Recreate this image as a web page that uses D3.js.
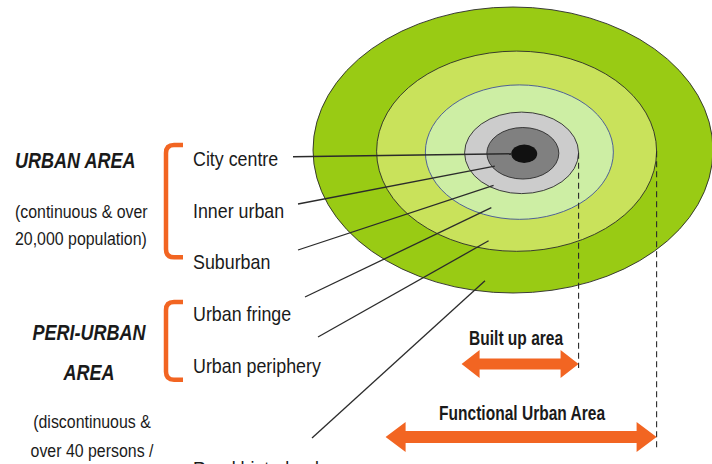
<!DOCTYPE html>
<html>
<head>
<meta charset="utf-8">
<script src="https://cdn.jsdelivr.net/npm/d3@7"></script>
<style>
  html, body { margin: 0; padding: 0; background: #ffffff; }
  svg { display: block; }
  text { font-family: 'Liberation Sans', Arial, sans-serif; fill: #1a1a1a; }
</style>
</head>
<body>
<div id="chart"></div>
<script>
// Zones, from the centre outwards
const zones = ["City centre", "Inner urban", "Suburban", "Urban fringe", "Urban periphery", "Rural hinterland"];
// Horizontal half-width of each zone's outer ring (diagram units)
const zoneRadius = [13, 36, 57, 94, 140, 200];
// Where the leader of each zone touches the ring band (0 = inner edge, 1 = outer edge)
const leaderDepth = [0, 0.8, 0.85, 0.7, 0.75, 0.75];
// Label row of each zone (rural hinterland sits lower)
const labelRow = [0, 1, 2, 3, 4, 6];

// Groups on the left
const groupTitle = [["URBAN AREA"], ["PERI-URBAN", "AREA"]];
const groupNote = [["(continuous & over", "20,000 population)"], ["(discontinuous &", "over 40 persons /"]];

// Measures (which zone ring each arrow reaches)
const measures = ["Built up area", "Functional Urban Area"];
const measureZone = [2, 4];

const width = 712, height = 464;
const fills = ["#111111", "#808080", "#cccccc", "#cdeea4", "#c9e25b", "#99cb14"];
const orange = "#f26522";

const svg = d3.select("#chart").append("svg")
  .attr("width", width)
  .attr("height", height);

// scales: ring size to pixels, row index to baseline
const rx = d3.scaleLinear().domain([0, 200]).range([0, 200]);
const ry = d3.scaleLinear().domain([0, 200]).range([0, 143]);
const cx = d3.scaleLinear().domain([0, 200]).range([525, 513]);
const cy = d3.scaleLinear().domain([0, 200]).range([154, 150]);
const yRow = d3.scaleLinear().domain([0, 6]).range([166, 476]);

// condensed text: squeeze horizontally around the anchor point
function label(g, x, y, str, size, sx, opts) {
  opts = opts || {};
  return g.append("text")
    .attr("transform", `translate(${x},${y}) scale(${sx},1)`)
    .attr("text-anchor", opts.anchor || "start")
    .style("font-size", size + "px")
    .style("font-weight", opts.bold ? "bold" : "normal")
    .style("font-style", opts.italic ? "italic" : "normal")
    .text(str);
}

// rings, largest first
const rings = zones.map((z, i) => ({ zone: z, r: zoneRadius[i], i })).reverse();
svg.append("g").selectAll("ellipse")
  .data(rings)
  .enter().append("ellipse")
    .attr("cx", d => cx(d.r))
    .attr("cy", d => cy(d.r))
    .attr("rx", d => rx(d.r))
    .attr("ry", d => ry(d.r))
    .style("fill", d => fills[d.i])
    .style("stroke", d => d.i === 3 ? "#41519a" : "#2a2a2a")
    .style("stroke-width", d => d.i === 0 ? 0 : 0.9);

// point where a zone leader ends
function leaderEnd(i) {
  const r = zoneRadius[i];
  if (i === 0) return [cx(r) - rx(r), cy(r)];
  const dx = -28;
  const band = k => {
    const a = rx(zoneRadius[k]), b = ry(zoneRadius[k]);
    const t = 1 - (dx * dx) / (a * a);
    return t > 0 ? b * Math.sqrt(t) : 0;
  };
  const inner = band(i - 1), outer = band(i);
  return [cx(r) + dx, cy(r) + inner + (outer - inner) * leaderDepth[i]];
}

// leaders start a little above each label
const leaderStart = [[293, 157], [298, 204], [298, 250], [305, 297], [318, 337], [312, 438]];
svg.append("g").selectAll("line")
  .data(zones)
  .enter().append("line")
    .attr("x1", (d, i) => leaderStart[i][0])
    .attr("y1", (d, i) => i === 0 ? leaderEnd(0)[1] + 3 : leaderStart[i][1])
    .attr("x2", (d, i) => leaderEnd(i)[0])
    .attr("y2", (d, i) => leaderEnd(i)[1])
    .style("stroke", "#2b2b2b")
    .style("stroke-width", 1.3);

// zone labels
const zoneLabels = svg.append("g");
zones.forEach((z, i) => label(zoneLabels, 193, yRow(labelRow[i]), z, 21, 0.85));

// brackets
const brackets = [[yRow(0) - 21, yRow(2) - 12], [yRow(3) - 19, yRow(4) + 7]];
svg.append("g").selectAll("path")
  .data(brackets)
  .enter().append("path")
    .attr("d", d => `M183,${d[0]} H174 Q166,${d[0]} 166,${d[0] + 8} V${d[1] - 8} Q166,${d[1]} 174,${d[1]} H183`)
    .style("fill", "none")
    .style("stroke", orange)
    .style("stroke-width", 4.5);

// group titles and notes
const titleLayout = [{ x: 15, anchor: "start", y: [168] }, { x: 89, anchor: "middle", y: [340, 380] }];
const noteLayout = [{ x: 15, anchor: "start", y: [218, 245] }, { x: 92, anchor: "middle", y: [428, 457] }];
const groups = svg.append("g");
groupTitle.forEach((lines, g) => {
  lines.forEach((t, k) => {
    label(groups, titleLayout[g].x, titleLayout[g].y[k], t, 22, 0.82,
      { anchor: titleLayout[g].anchor, bold: true, italic: true });
  });
});
groupNote.forEach((lines, g) => {
  lines.forEach((t, k) => {
    label(groups, noteLayout[g].x, noteLayout[g].y[k], t, 18.5, 0.86,
      { anchor: noteLayout[g].anchor });
  });
});

// measures: dashed drop line + double arrow + caption
const arrowY = [364, 437];
const arrowLen = [117, 271];
const arrowSize = [{ shaft: 11, head: 28, tip: 18 }, { shaft: 12, head: 30, tip: 20 }];
const captionY = [345, 420];

measures.forEach((m, k) => {
  const r = zoneRadius[measureZone[k]];
  const right = cx(r) + rx(r);
  const left = right - arrowLen[k];
  const y = arrowY[k], s = arrowSize[k];

  svg.append("line")
    .attr("x1", right).attr("x2", right)
    .attr("y1", cy(r)).attr("y2", y + (k === 0 ? 4 : 13))
    .style("stroke", "#2b2b2b")
    .style("stroke-width", 1.1)
    .style("stroke-dasharray", "6,4");

  const h = s.shaft / 2, H = s.head / 2;
  const pts = [
    [left, y], [left + s.tip, y - H], [left + s.tip, y - h], [right - s.tip, y - h],
    [right - s.tip, y - H], [right, y], [right - s.tip, y + H], [right - s.tip, y + h],
    [left + s.tip, y + h], [left + s.tip, y + H]
  ];
  svg.append("polygon")
    .attr("points", pts.map(p => p.join(",")).join(" "))
    .style("fill", orange);

  label(svg, (left + right) / 2 + (k === 0 ? -4 : 1), captionY[k], m, 21, 0.74,
    { anchor: "middle", bold: true });
});
</script>
</body>
</html>
